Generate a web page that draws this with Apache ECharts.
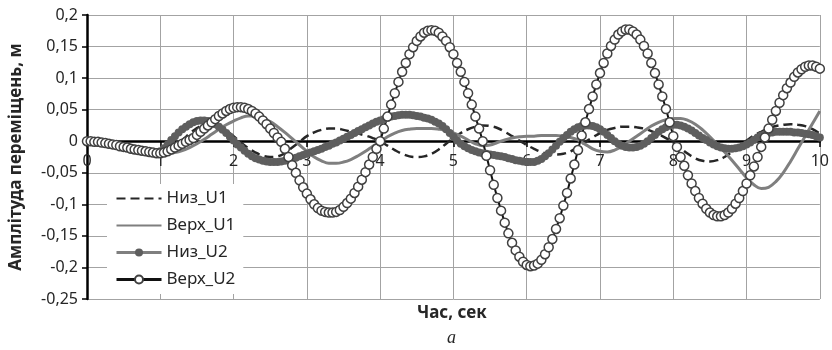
<!DOCTYPE html>
<html>
<head>
<meta charset="utf-8">
<script src="https://cdn.jsdelivr.net/npm/echarts@6/dist/echarts.min.js"></script>
<style>
  html, body { margin: 0; padding: 0; background: #fff; }
  #chart { width: 832px; height: 350px; }
</style>
</head>
<body>
<div id="chart"></div>
<script>
// крок часу для рядів, с
var dtU1 = 0.1;
var dtU2 = 0.05;

var seriesNames = ['Низ_U1', 'Верх_U1', 'Низ_U2', 'Верх_U2'];

// Низ_U1, t = 0..10 з кроком 0.1
var nizU1 = [
  0.000, -0.001, -0.002, -0.004, -0.006, -0.009, -0.012, -0.014, -0.016, -0.017,
  -0.016, -0.012, -0.005, 0.002, 0.012, 0.021, 0.026, 0.027, 0.024, 0.017,
  0.008, -0.002, -0.011, -0.018, -0.023, -0.025, -0.024, -0.019, -0.010, -0.001,
  0.008, 0.014, 0.018, 0.020, 0.020, 0.018, 0.015, 0.012, 0.009, 0.005,
  0.000, -0.007, -0.014, -0.020, -0.024, -0.025, -0.024, -0.020, -0.013, -0.004,
  0.005, 0.013, 0.019, 0.023, 0.025, 0.024, 0.021, 0.015, 0.008, 0.001,
  -0.006, -0.012, -0.017, -0.020, -0.021, -0.020, -0.016, -0.009, -0.001, 0.006,
  0.013, 0.018, 0.021, 0.023, 0.023, 0.022, 0.020, 0.016, 0.011, 0.005,
  -0.002, -0.011, -0.020, -0.027, -0.031, -0.032, -0.030, -0.025, -0.017, -0.008,
  0.001, 0.009, 0.015, 0.020, 0.024, 0.026, 0.027, 0.026, 0.024, 0.019,
  0.012
];

// Верх_U1, t = 0..10 з кроком 0.1
var verkhU1 = [
  0.000, 0.000, -0.001, -0.002, -0.004, -0.006, -0.009, -0.011, -0.014, -0.016,
  -0.018, -0.019, -0.018, -0.015, -0.010, -0.004, 0.003, 0.011, 0.019, 0.026,
  0.032, 0.037, 0.040, 0.040, 0.037, 0.031, 0.023, 0.014, 0.004, -0.006,
  -0.016, -0.025, -0.031, -0.035, -0.035, -0.033, -0.029, -0.023, -0.016, -0.008,
  -0.001, 0.007, 0.013, 0.017, 0.019, 0.020, 0.020, 0.020, 0.019, 0.017,
  0.013, 0.008, 0.002, -0.004, -0.007, -0.006, -0.002, 0.002, 0.005, 0.007,
  0.008, 0.008, 0.009, 0.009, 0.009, 0.008, 0.006, 0.002, -0.005, -0.012,
  -0.016, -0.017, -0.014, -0.008, 0.000, 0.008, 0.016, 0.024, 0.030, 0.034,
  0.036, 0.036, 0.033, 0.027, 0.018, 0.007, -0.005, -0.017, -0.030, -0.044,
  -0.058, -0.069, -0.075, -0.073, -0.064, -0.050, -0.032, -0.012, 0.008, 0.028,
  0.048
];

// Низ_U2, t = 0..10 з кроком 0.05
var nizU2 = [
  0.000, 0.000, -0.001, -0.001, -0.002, -0.003, -0.004, -0.005, -0.006, -0.007,
  -0.008, -0.010, -0.011, -0.012, -0.013, -0.014, -0.015, -0.016, -0.017, -0.018,
  -0.016, -0.011, -0.005, 0.002, 0.008, 0.014, 0.019, 0.023, 0.027, 0.030,
  0.032, 0.033, 0.033, 0.032, 0.030, 0.027, 0.023, 0.018, 0.013, 0.007,
  0.001, -0.005, -0.010, -0.015, -0.020, -0.024, -0.027, -0.029, -0.031, -0.032,
  -0.033, -0.033, -0.033, -0.032, -0.031, -0.030, -0.028, -0.026, -0.024, -0.022,
  -0.020, -0.018, -0.016, -0.014, -0.012, -0.009, -0.007, -0.004, -0.002, 0.001,
  0.004, 0.007, 0.010, 0.013, 0.016, 0.019, 0.022, 0.025, 0.028, 0.031,
  0.033, 0.035, 0.037, 0.039, 0.040, 0.041, 0.042, 0.042, 0.042, 0.041,
  0.040, 0.039, 0.037, 0.036, 0.034, 0.031, 0.028, 0.024, 0.019, 0.013,
  0.007, 0.001, -0.004, -0.008, -0.011, -0.014, -0.016, -0.018, -0.019, -0.020,
  -0.021, -0.022, -0.023, -0.024, -0.025, -0.027, -0.028, -0.030, -0.031, -0.032,
  -0.033, -0.033, -0.033, -0.031, -0.028, -0.024, -0.019, -0.013, -0.007, -0.001,
  0.005, 0.010, 0.015, 0.019, 0.022, 0.024, 0.025, 0.025, 0.024, 0.022,
  0.019, 0.015, 0.010, 0.005, 0.000, -0.004, -0.007, -0.009, -0.010, -0.010,
  -0.009, -0.007, -0.004, 0.000, 0.005, 0.010, 0.015, 0.019, 0.022, 0.025,
  0.026, 0.026, 0.025, 0.023, 0.020, 0.017, 0.013, 0.009, 0.005, 0.002,
  -0.002, -0.005, -0.008, -0.010, -0.011, -0.012, -0.012, -0.011, -0.010, -0.008,
  -0.005, -0.002, 0.002, 0.006, 0.009, 0.011, 0.013, 0.014, 0.015, 0.015,
  0.015, 0.015, 0.015, 0.014, 0.014, 0.013, 0.012, 0.011, 0.010, 0.008,
  0.006
];

// Верх_U2, t = 0..10 з кроком 0.05
var verkhU2 = [
  0.000, 0.000, -0.001, -0.001, -0.002, -0.003, -0.004, -0.005, -0.006, -0.008,
  -0.009, -0.010, -0.012, -0.013, -0.014, -0.015, -0.016, -0.017, -0.018, -0.019,
  -0.019, -0.018, -0.016, -0.013, -0.010, -0.007, -0.004, -0.001, 0.002, 0.005,
  0.010, 0.015, 0.020, 0.025, 0.030, 0.035, 0.040, 0.044, 0.048, 0.051,
  0.053, 0.054, 0.054, 0.053, 0.051, 0.048, 0.044, 0.039, 0.033, 0.027,
  0.020, 0.013, 0.006, -0.001, -0.012, -0.025, -0.038, -0.050, -0.062, -0.073,
  -0.083, -0.092, -0.100, -0.106, -0.110, -0.112, -0.113, -0.113, -0.112, -0.109,
  -0.104, -0.098, -0.091, -0.082, -0.072, -0.061, -0.049, -0.037, -0.025, -0.012,
  0.000, 0.020, 0.039, 0.058, 0.076, 0.094, 0.110, 0.124, 0.138, 0.149,
  0.159, 0.166, 0.172, 0.175, 0.176, 0.175, 0.172, 0.166, 0.159, 0.149,
  0.138, 0.124, 0.110, 0.094, 0.076, 0.058, 0.039, 0.020, 0.000, -0.023,
  -0.046, -0.069, -0.090, -0.110, -0.129, -0.146, -0.161, -0.173, -0.183, -0.191,
  -0.196, -0.198, -0.197, -0.194, -0.188, -0.179, -0.168, -0.155, -0.139, -0.122,
  -0.102, -0.082, -0.059, -0.037, -0.014, 0.009, 0.030, 0.051, 0.071, 0.090,
  0.108, 0.124, 0.139, 0.151, 0.161, 0.169, 0.174, 0.177, 0.177, 0.174,
  0.169, 0.161, 0.151, 0.139, 0.124, 0.108, 0.090, 0.071, 0.051, 0.030,
  0.008, -0.009, -0.025, -0.039, -0.054, -0.067, -0.079, -0.090, -0.099, -0.107,
  -0.113, -0.117, -0.119, -0.119, -0.117, -0.113, -0.107, -0.099, -0.090, -0.079,
  -0.067, -0.054, -0.040, -0.025, -0.009, 0.006, 0.020, 0.034, 0.048, 0.061,
  0.073, 0.084, 0.093, 0.102, 0.109, 0.114, 0.118, 0.120, 0.120, 0.118,
  0.115
];

function withTime(values, dt) {
  return values.map(function (v, i) {
    return [+(i * dt).toFixed(2), v];
  });
}

var textColor = '#262626';
var gridColor = '#a3a3a3';

var chart = echarts.init(document.getElementById('chart'), null, { renderer: 'canvas' });

var option = {
  animation: false,
  backgroundColor: '#fff',
  textStyle: { fontFamily: 'Noto Sans' },
  grid: { left: 82, right: 9, top: 15, bottom: 51 },
  legend: {
    orient: 'vertical',
    left: 107,
    top: 184,
    padding: [6, 8, 6, 8],
    backgroundColor: '#fff',
    itemWidth: 45,
    itemHeight: 10,
    itemGap: 10,
    itemTextGap: 5,
    selectedMode: false,
    data: [
      { name: seriesNames[0], itemStyle: { opacity: 0 } },
      { name: seriesNames[1], itemStyle: { opacity: 0 } },
      { name: seriesNames[2], lineStyle: { width: 3 } },
      { name: seriesNames[3], lineStyle: { width: 3 } }
    ],
    textStyle: { fontSize: 17, color: textColor, fontFamily: 'Noto Sans' }
  },
  xAxis: {
    type: 'value',
    min: 0,
    max: 10,
    interval: 1,
    // вісь часу проходить через нуль
    offset: -158,
    axisLine: { onZero: false, lineStyle: { color: '#000', width: 2.5 } },
    axisTick: { show: true, length: 6, lineStyle: { color: '#000', width: 1.5 } },
    axisLabel: { fontSize: 16, color: textColor, margin: 12 },
    splitLine: { show: true, lineStyle: { color: gridColor, width: 1 } }
  },
  yAxis: {
    type: 'value',
    min: -0.25,
    max: 0.2,
    interval: 0.05,
    name: 'Амплітуда переміщень, м',
    nameLocation: 'middle',
    nameGap: 62,
    nameTextStyle: { fontSize: 17, fontWeight: 'bold', color: textColor },
    axisLine: { show: true, onZero: false, lineStyle: { color: '#000', width: 2.5 } },
    axisTick: { show: true, length: 5, lineStyle: { color: '#000', width: 1.5 } },
    axisLabel: {
      fontSize: 16,
      color: textColor,
      margin: 9,
      formatter: function (v) {
        return String(parseFloat(v.toFixed(2))).replace('.', ',');
      }
    },
    splitLine: { show: true, lineStyle: { color: gridColor, width: 1 } }
  },
  graphic: [
    {
      type: 'text',
      left: 452 - 35,
      top: 305,
      style: { text: 'Час, сек', font: 'bold 17px "Noto Sans"', fill: textColor }
    },
    {
      type: 'text',
      left: 447,
      top: 329,
      style: { text: 'а', font: 'italic 18px "Liberation Serif"', fill: textColor }
    }
  ],
  series: [
    {
      name: seriesNames[0],
      type: 'line',
      data: withTime(nizU1, dtU1),
      smooth: 0.4,
      symbol: 'none',
      lineStyle: { color: '#262626', width: 2.5, type: [9, 5] },
      itemStyle: { color: '#262626' },
      silent: true
    },
    {
      name: seriesNames[1],
      type: 'line',
      data: withTime(verkhU1, dtU1),
      smooth: 0.4,
      symbol: 'none',
      lineStyle: { color: '#7f7f7f', width: 3 },
      itemStyle: { color: '#7f7f7f' },
      silent: true
    },
    {
      name: seriesNames[2],
      type: 'line',
      data: withTime(nizU2, dtU2),
      symbol: 'circle',
      symbolSize: 8,
      showAllSymbol: true,
      lineStyle: { color: '#7f7f7f', width: 2.5 },
      itemStyle: { color: '#5e5e5e', borderWidth: 0 },
      silent: true
    },
    {
      name: seriesNames[3],
      type: 'line',
      data: withTime(verkhU2, dtU2),
      symbol: 'circle',
      symbolSize: 9,
      showAllSymbol: true,
      lineStyle: { color: '#111', width: 2 },
      itemStyle: { color: '#fff', borderColor: '#404040', borderWidth: 1.5 },
      silent: true
    }
  ]
};

chart.setOption(option);
</script>
</body>
</html>
